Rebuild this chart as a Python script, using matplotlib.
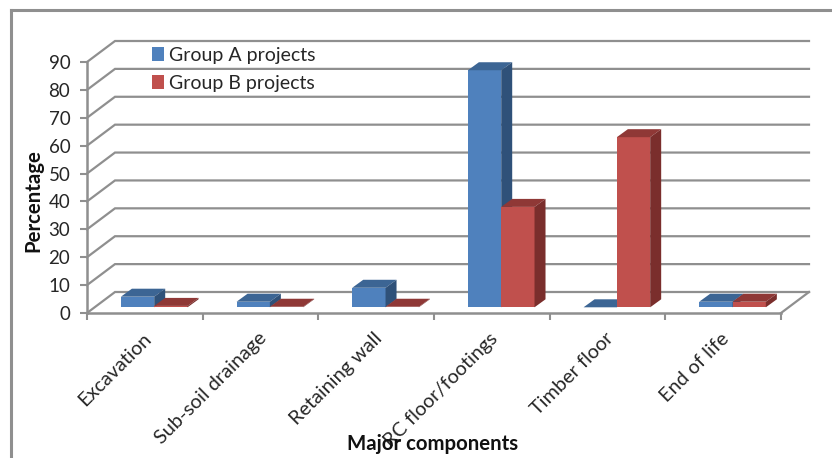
import matplotlib

matplotlib.use("Agg")
import matplotlib.pyplot as plt
from matplotlib.lines import Line2D
from matplotlib.patches import Patch, Polygon

categories = ["Excavation", "Sub-soil drainage", "Retaining wall", "RC floor/footings", "Timber floor", "End of life"]
group_a = [3.8, 2, 7, 85, 0, 2]
group_b = [0.5, 0.2, 0.2, 36, 61, 2]
y_ticks = list(range(0, 100, 10))

GRID = "#8f8f8f"
TEXT = "#262626"
BLUE = ("#4f81bd", "#3c6594", "#2f5179")
RED = ("#c0504d", "#8f3836", "#7a2e2c")

# pixel geometry of the front plane
W, H = 832, 458
X0, X1, Y0, Y90 = 87, 781, 313, 62
PX_X = (X1 - X0) / 6
PX_Y = (Y0 - Y90) / 90

# depth of the floor and of a single bar, in data units
DEPTH_X, DEPTH_Y = 28 / PX_X, 21 / PX_Y
BAR_DX, BAR_DY = 11 / PX_X, 8 / PX_Y
BAR_LIFT = 5.7 / PX_Y
BAR_W = 0.288
BAR_START = 0.293


def draw_bar(ax, x, val, colors):
    base = BAR_LIFT
    top = base + val
    front, cap, side = colors
    z = 3 + x * 0.01
    ax.add_patch(Polygon([(x, base), (x + BAR_W, base), (x + BAR_W, top), (x, top)],
                         fc=front, ec="none", clip_on=False, zorder=z))
    ax.add_patch(Polygon([(x, top), (x + BAR_W, top), (x + BAR_W + BAR_DX, top + BAR_DY), (x + BAR_DX, top + BAR_DY)],
                         fc=cap, ec="none", clip_on=False, zorder=z))
    ax.add_patch(Polygon([(x + BAR_W, base), (x + BAR_W + BAR_DX, base + BAR_DY),
                          (x + BAR_W + BAR_DX, top + BAR_DY), (x + BAR_W, top)],
                         fc=side, ec="none", clip_on=False, zorder=z))


def main():
    plt.rcParams["font.family"] = ["Lato", "DejaVu Sans"]
    fig = plt.figure(figsize=(W / 100, H / 100), dpi=100)
    ax = fig.add_axes([X0 / W, (H - Y0) / H, (X1 - X0) / W, (Y0 - Y90) / H])
    ax.set_xlim(0, 6)
    ax.set_ylim(0, 90)
    ax.patch.set_visible(False)

    # outer frame, runs off the right and bottom of the image
    frame = dict(color=GRID, lw=2.2, transform=None)
    fig.add_artist(Line2D([11, W], [H - 10, H - 10], **frame))
    fig.add_artist(Line2D([11, 11], [0, H - 10], **frame))

    # back wall and side wall gridlines
    for v in y_ticks:
        ax.plot([0, DEPTH_X, 6 + DEPTH_X], [v, v + DEPTH_Y, v + DEPTH_Y], color=GRID, lw=1.6,
                clip_on=False, zorder=1, solid_joinstyle="miter")
    ax.plot([6, 6 + DEPTH_X], [0, DEPTH_Y], color=GRID, lw=1.6, clip_on=False, zorder=1)

    for i in range(len(categories)):
        draw_bar(ax, i + BAR_START, group_a[i], BLUE)
        draw_bar(ax, i + BAR_START + BAR_W, group_b[i], RED)

    for name in ["top", "right"]:
        ax.spines[name].set_visible(False)
    for name in ["left", "bottom"]:
        ax.spines[name].set_color(GRID)
        ax.spines[name].set_linewidth(1.8)

    ax.set_yticks(y_ticks)
    ax.tick_params(axis="y", length=5, width=1.5, color=GRID, labelsize=13.5, labelcolor=TEXT, pad=7)
    ax.set_xticks(range(7), minor=True)
    ax.tick_params(axis="x", which="minor", length=5, width=1.5, color=GRID)
    ax.set_xticks([i + 0.475 for i in range(len(categories))])
    ax.set_xticklabels(categories, rotation=45, ha="right", va="top", rotation_mode="anchor", fontsize=14.3, color=TEXT)
    ax.tick_params(axis="x", which="major", length=0, pad=12)

    handles = [Patch(fc=BLUE[0], label="Group A projects"), Patch(fc=RED[0], label="Group B projects")]
    ax.legend(handles=handles, loc="upper left", bbox_to_anchor=((152 - X0) / (X1 - X0), (Y0 - 47) / (Y0 - Y90)),
              frameon=False, fontsize=14, labelcolor=TEXT, handlelength=0.62, handleheight=0.72,
              handletextpad=0.27, labelspacing=0.57, borderpad=0, borderaxespad=0)

    fig.text(33 / W, (H - 201) / H, "Percentage", rotation=90, ha="center", va="center",
             fontsize=14.7, fontweight="bold", color="#111111")
    fig.text(433 / W, (H - 444) / H, "Major components", ha="center", va="center",
             fontsize=14.7, fontweight="bold", color="#111111", zorder=10)

    fig.savefig("out.png", dpi=100)


if __name__ == "__main__":
    main()
